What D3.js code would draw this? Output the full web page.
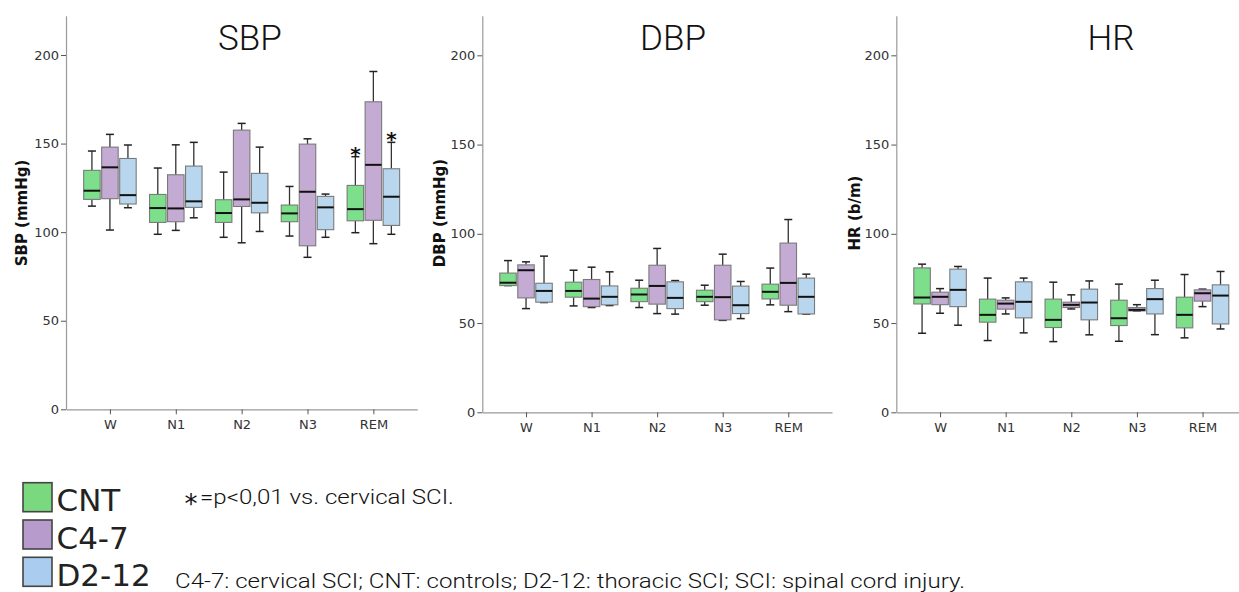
<!DOCTYPE html>
<html><head><meta charset="utf-8">
<script src="https://cdn.jsdelivr.net/npm/d3@7"></script>
<style>body{margin:0;background:#fff}svg{display:block}</style>
</head><body>
<svg id="chart" width="1239" height="592"></svg>
<script>
// ---- data: each entry is [low whisker, Q1, median, Q3, high whisker] per stage ----
const stages = ["W", "N1", "N2", "N3", "REM"];
const groups = ["CNT", "C4-7", "D2-12"];
const yTicks = [0, 50, 100, 150, 200];

const sbpCNT = [[114.7,118.5,123.4,134.9,145.8],[98.8,105.5,113.6,121.3,136.2],[97.1,105.5,110.8,118.3,133.9],[97.8,105.9,110.6,115.3,125.8],[99.7,106.4,113.0,126.4,142.6]];
const sbpC47 = [[101.2,118.9,136.6,148.0,155.2],[101.0,105.9,113.4,132.4,149.3],[94.0,114.5,118.5,157.6,161.4],[85.8,92.3,122.8,149.7,152.7],[93.5,106.7,138.0,173.6,190.7]];
const sbpD212 = [[113.8,115.9,120.9,141.6,149.2],[108.1,114.0,117.4,137.3,150.7],[100.4,110.9,116.6,133.2,148.0],[97.1,101.4,114.0,120.2,121.5],[98.8,103.8,120.0,135.8,150.7]];

const dbpCNT = [[71.0,71.0,72.6,78.0,85.0],[59.6,64.5,68.0,72.9,79.6],[58.7,62.0,66.0,69.5,74.0],[60.0,62.0,64.7,68.4,71.2],[60.2,63.5,67.5,71.8,80.8]];
const dbpC47 = [[58.1,64.1,79.6,82.6,84.3],[58.7,59.2,63.7,74.4,81.3],[55.3,60.6,70.8,82.4,91.8],[51.5,51.8,64.5,82.4,88.6],[56.4,60.0,72.5,94.8,108.0]];
const dbpD212 = [[61.5,61.7,68.0,72.3,87.5],[59.8,60.2,64.7,70.8,78.7],[55.0,58.1,64.1,73.1,73.8],[52.5,55.3,60.0,70.7,73.3],[55.0,55.1,64.7,75.2,77.4]];

const hrCNT = [[44.3,60.7,64.3,80.9,83.0],[40.2,50.5,54.6,63.4,75.2],[39.6,47.5,51.8,63.4,72.9],[39.8,48.6,52.7,62.8,71.8],[41.7,47.3,54.6,64.5,77.2]];
const hrC47 = [[55.5,60.3,64.7,67.3,69.3],[55.1,57.8,60.9,62.8,64.1],[57.9,58.7,60.2,61.7,65.8],[56.8,56.8,57.4,58.7,60.3],[59.2,62.3,66.7,68.6,69.0]];
const hrD212 = [[48.8,59.2,68.6,80.2,81.7],[44.5,52.9,61.9,73.1,75.2],[43.4,51.8,61.5,69.0,73.6],[43.5,55.1,63.4,69.3,74.0],[46.7,49.5,65.4,71.4,78.9]];

// significance markers (panel, stage, group)
const starMarks = [["SBP","REM","CNT"],["SBP","REM","D2-12"]];

const panelNames = ["SBP", "DBP", "HR"];
const panelLabels = ["SBP (mmHg)", "DBP (mmHg)", "HR (b/m)"];
const panelData = { SBP: [sbpCNT, sbpC47, sbpD212], DBP: [dbpCNT, dbpC47, dbpD212], HR: [hrCNT, hrC47, hrD212] };

const footStar = "=p<0,01 vs. cervical SCI.";
const footAbbrev = "C4-7: cervical SCI; CNT: controls; D2-12: thoracic SCI; SCI: spinal cord injury.";

// ---- styling / layout ----
const fills = ["#7ddf8c", "#c3abd3", "#b8d6ee"];
const legendFills = ["#7ad97f", "#b69bcc", "#aacdef"];
const layout = {
  SBP: { x0: 66, x1: 417.3, yb: 409.3, title: [250, 50], lab: 21.5 },
  DBP: { x0: 482.3, x1: 832, yb: 412.3, title: [673, 50], lab: 439.5 },
  HR:  { x0: 896.3, x1: 1246.3, yb: 412.3, title: [1111, 50], lab: 854 }
};
const yTop = 15.7, yMax = 222.2;
const tickFont = "'DejaVu Sans', Verdana, sans-serif";

const svg = d3.select("#chart");

panelNames.forEach((name, pi) => {
  const L = layout[name];
  const g = svg.append("g");
  const x = d3.scalePoint().domain(stages).range([L.x0, L.x1]).padding(0.667);
  const off = d3.scalePoint().domain(groups).range([-18, 18]);
  const y = d3.scaleLinear().domain([0, yMax]).range([L.yb, yTop]);

  // axes
  const yAx = g.append("g").attr("transform", `translate(${L.x0},0)`)
    .call(d3.axisLeft(y).tickValues(yTicks).tickSize(5).tickSizeOuter(0).tickPadding(2));
  const xAx = g.append("g").attr("transform", `translate(0,${L.yb})`)
    .call(d3.axisBottom(x).tickSize(5).tickSizeOuter(0).tickPadding(5));
  [yAx, xAx].forEach(a => {
    a.select(".domain").attr("stroke", "#9a9a9a").attr("stroke-width", 1.2);
    a.selectAll(".tick line").attr("stroke", "#555").attr("stroke-width", 1);
    a.selectAll(".tick text").attr("fill", "#333").style("font-family", tickFont).style("font-size", "13px");
  });

  // titles
  g.append("text").attr("x", L.title[0]).attr("y", L.title[1]).attr("text-anchor", "middle")
    .style("font-family", "Roboto, 'Liberation Sans', sans-serif").style("font-weight", 300)
    .style("font-size", "35px").attr("fill", "#111").text(name);
  g.append("text").attr("transform", `translate(${L.lab + 5.5},213) rotate(-90)`).attr("text-anchor", "middle")
    .style("font-family", tickFont).style("font-weight", "bold").style("font-size", "15px")
    .attr("fill", "#111").text(panelLabels[pi]);

  // boxes
  const bw = 16.5, cap = 8;
  panelData[name].forEach((series, gi) => {
    series.forEach((v, si) => {
      const cx = x(stages[si]) + off(groups[gi]);
      const [lo, q1, md, q3, hi] = v;
      const bg = g.append("g");
      bg.append("line").attr("x1", cx).attr("x2", cx).attr("y1", y(hi)).attr("y2", y(q3)).attr("stroke", "#333").attr("stroke-width", 1.3);
      bg.append("line").attr("x1", cx).attr("x2", cx).attr("y1", y(q1)).attr("y2", y(lo)).attr("stroke", "#333").attr("stroke-width", 1.3);
      bg.append("line").attr("x1", cx - cap/2).attr("x2", cx + cap/2).attr("y1", y(hi)).attr("y2", y(hi)).attr("stroke", "#222").attr("stroke-width", 1.5);
      bg.append("line").attr("x1", cx - cap/2).attr("x2", cx + cap/2).attr("y1", y(lo)).attr("y2", y(lo)).attr("stroke", "#222").attr("stroke-width", 1.5);
      bg.append("rect").attr("x", cx - bw/2).attr("width", bw).attr("y", y(q3)).attr("height", Math.max(0.5, y(q1) - y(q3)))
        .attr("fill", fills[gi]).attr("stroke", "#7a7a7a").attr("stroke-width", 1.1);
      bg.append("line").attr("x1", cx - bw/2).attr("x2", cx + bw/2).attr("y1", y(md)).attr("y2", y(md)).attr("stroke", "#111").attr("stroke-width", 2);
    });
  });

  // significance stars
  starMarks.filter(s => s[0] === name).forEach(s => {
    const si = stages.indexOf(s[1]), gi = groups.indexOf(s[2]);
    const cx = x(s[1]) + off(s[2]);
    const hi = panelData[name][gi][si][4];
    g.append("text").attr("x", cx).attr("y", y(hi) + 4).attr("text-anchor", "middle")
      .style("font-family", tickFont).style("font-weight", "bold").style("font-size", "20px").attr("fill", "#111").text("*");
  });
});

// legend
const leg = svg.append("g");
groups.forEach((gname, i) => {
  const yy = 482.7 + i * 37.3;
  leg.append("rect").attr("x", 23).attr("y", yy).attr("width", 29).attr("height", 29)
    .attr("fill", legendFills[i]).attr("stroke", "#444").attr("stroke-width", 1.6);
  leg.append("text").attr("x", 56.5).attr("y", yy + 28.5).style("font-family", tickFont)
    .style("font-size", "31px").attr("fill", "#222").text(gname);
});

// footnotes
const fnFont = "Roboto, 'Liberation Sans', sans-serif";
svg.append("text").attr("x", 191).attr("y", 513).attr("text-anchor", "middle")
  .style("font-family", tickFont).style("font-size", "26px").attr("fill", "#111").text("*");
const f1 = svg.append("text").attr("x", 200).attr("y", 504).style("font-family", fnFont)
  .style("font-weight", 300).style("font-size", "21px").attr("fill", "#111").text(footStar);
const f2 = svg.append("text").attr("x", 175).attr("y", 588).style("font-family", fnFont)
  .style("font-weight", 300).style("font-size", "21px").attr("fill", "#111").text(footAbbrev);
const n2 = f2.node().getComputedTextLength();
const ratio = 790 / n2;
f2.attr("textLength", 790).attr("lengthAdjust", "spacingAndGlyphs");
f1.attr("textLength", f1.node().getComputedTextLength() * ratio).attr("lengthAdjust", "spacingAndGlyphs");
</script>
</body></html>
